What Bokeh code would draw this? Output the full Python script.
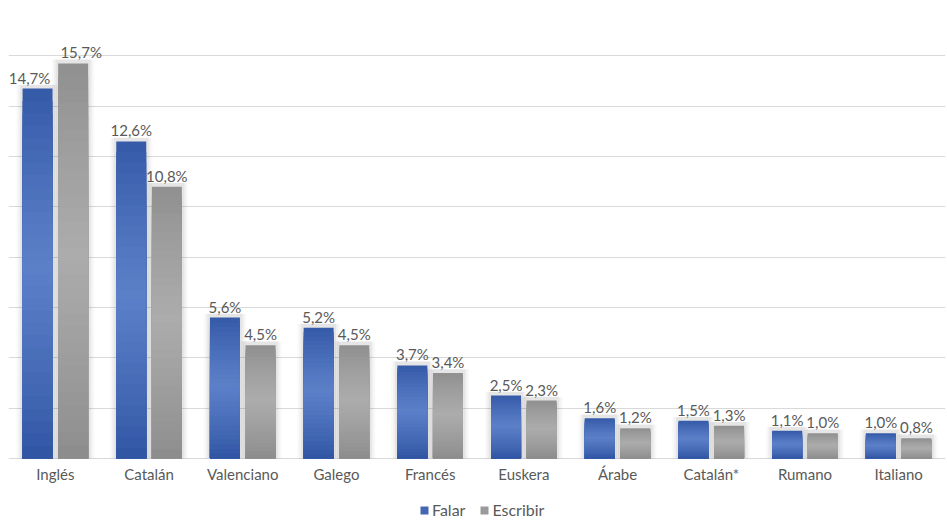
from bokeh.plotting import figure
from bokeh.models import ColumnDataSource, FactorRange, Range1d, Legend, LegendItem
from bokeh.core.properties import value
from bokeh.transform import dodge
from bokeh.embed import file_html
from bokeh.resources import INLINE

languages = ["Inglés", "Catalán", "Valenciano", "Galego", "Francés",
             "Euskera", "Árabe", "Catalán*", "Rumano", "Italiano"]
falar = [14.7, 12.6, 5.6, 5.2, 3.7, 2.5, 1.6, 1.5, 1.1, 1.0]
escribir = [15.7, 10.8, 4.5, 4.5, 3.4, 2.3, 1.2, 1.3, 1.0, 0.8]
series_names = ["Falar", "Escribir"]

FONT = "Lato"
TEXT_COLOR = "#595959"
GRID_COLOR = "#d9d9d9"
BAR_W = 0.32
OFFSET = 0.19
N_BANDS = 30
Y_MAX = 18
PX_PER_UNIT = 453 / Y_MAX        # frame scale used to leave room for the labels below 0
BOTTOM_ROOM = 63 / PX_PER_UNIT

# (dark edge colour, light centre colour) for each series
palettes = {
    "Falar": ((0x2e, 0x53, 0xa2), (0x5c, 0x80, 0xc8)),
    "Escribir": ((0x8b, 0x8b, 0x8b), (0xab, 0xac, 0xab)),
}


def mix(c1, c2, t):
    return "#%02x%02x%02x" % tuple(int(round(a + (b - a) * t)) for a, b in zip(c1, c2))


def band_source(values, name):
    dark, light = palettes[name]
    xs, tops, colors = [], [], []
    for lang, v in zip(languages, values):
        # tallest band first so the shorter ones paint over it
        for i in range(N_BANDS):
            frac = (N_BANDS - i) / N_BANDS
            mid = frac - 0.5 / N_BANDS
            t = max(0.0, 1 - abs(mid - 0.52) / 0.52)
            xs.append(lang)
            tops.append(v * frac)
            colors.append(mix(dark, light, t ** 0.8))
    return ColumnDataSource(dict(lang=xs, top=tops, color=colors))


p = figure(
    x_range=FactorRange(*languages, range_padding=0.0),
    y_range=Range1d(-BOTTOM_ROOM, Y_MAX),
    width=947, height=521,
    output_backend="svg", toolbar_location=None,
    min_border_left=8, min_border_right=2, min_border_top=5, min_border_bottom=0,
)

p.background_fill_color = "white"
p.border_fill_color = "white"
p.outline_line_color = None

p.xaxis.visible = False
p.yaxis.visible = False
p.xgrid.visible = False
p.ygrid.ticker = list(range(0, Y_MAX + 1, 2))
p.ygrid.grid_line_color = GRID_COLOR
p.ygrid.grid_line_width = 1

# nudge the two labels of the tallest pair apart so they do not collide
label_nudge = {"Inglés": 8}

for name, values, off, sign in [("Falar", falar, -OFFSET, -1), ("Escribir", escribir, OFFSET, 1)]:
    xpos = dodge("lang", off, range=p.x_range)
    shadow = ColumnDataSource(dict(lang=languages, top=[v + 0.15 for v in values]))
    for extra, alpha in [(0.13, 0.04), (0.09, 0.06), (0.05, 0.09)]:
        p.vbar(x=xpos, top="top", bottom=0, width=BAR_W + extra, source=shadow,
               fill_color="#6f6f6f", fill_alpha=alpha, line_color=None)
    p.vbar(x=xpos, top="top", bottom=0, width=BAR_W, source=band_source(values, name),
           fill_color="color", line_color=None)
    lbl = ColumnDataSource(dict(
        lang=languages, val=values,
        text=[("%.1f%%" % v).replace(".", ",") for v in values],
        dx=[sign * label_nudge.get(lang, 0) for lang in languages],
    ))
    p.text(x=xpos, y="val", text="text", source=lbl, x_offset="dx", y_offset=-2,
           text_align="center", text_baseline="bottom",
           text_font=value(FONT), text_font_size="15px", text_color=TEXT_COLOR)

# category names under the baseline
cats = ColumnDataSource(dict(lang=languages, y=[0] * len(languages)))
p.text(x="lang", y="y", text="lang", source=cats, y_offset=6,
       text_align="center", text_baseline="top",
       text_font=value(FONT), text_font_size="15px", text_color=TEXT_COLOR)

# legend swatches (zero-height bars, so only the legend shows them)
leg_items = []
for name in series_names:
    dark, light = palettes[name]
    r = p.vbar(x=[languages[0]], top=[0], bottom=[0], width=0.01,
               fill_color=mix(dark, light, 0.45), line_color=None)
    leg_items.append(LegendItem(label=name, renderers=[r]))

legend = Legend(items=leg_items, orientation="horizontal", location=(411, 2),
                label_text_font=FONT, label_text_font_size="16px",
                label_text_color=TEXT_COLOR, glyph_width=10, glyph_height=10,
                label_standoff=3, spacing=14, padding=0, margin=0,
                border_line_color=None, background_fill_alpha=0)
p.add_layout(legend, "center")

open("out.html", "w").write(file_html(p, INLINE))
